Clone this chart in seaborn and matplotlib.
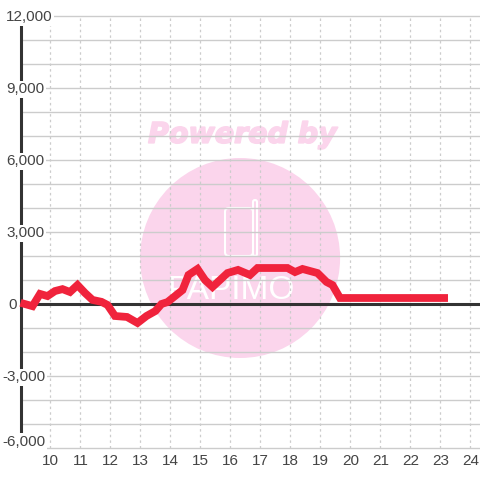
import numpy as np
import pandas as pd
import seaborn as sns
import matplotlib.pyplot as plt
import matplotlib.patheffects as pe
from matplotlib.patches import Ellipse, FancyBboxPatch
from matplotlib.transforms import IdentityTransform

hours = [9.0, 9.4, 9.65, 9.9, 10.15, 10.4, 10.65, 10.9, 11.15, 11.4, 11.7, 11.9,
         12.15, 12.55, 12.9, 13.2, 13.5, 13.7, 13.9, 14.4, 14.6, 14.9, 15.15, 15.4,
         15.9, 16.25, 16.65, 16.9, 17.9, 18.15, 18.4, 18.9, 19.2, 19.4, 19.65, 20.0, 23.25]
values = [50, -90, 420, 330, 540, 620, 500, 790, 460, 170, 90, -40,
          -500, -540, -790, -500, -290, 0, 80, 580, 1210, 1460, 1000, 710,
          1290, 1420, 1210, 1500, 1500, 1330, 1460, 1290, 920, 790, 250, 250, 250]
x_ticks = list(range(10, 25))
y_labels = [12000, 9000, 6000, 3000, 0, -3000, -6000]
y_grid = list(range(-6000, 13000, 1000))

PINK = "#fbd5ec"
DARK = "#333333"
GRID = "#cccccc"
TEXT = "#444444"

sns.set_theme(style="white")
plt.rcParams["font.family"] = ["Liberation Sans", "DejaVu Sans"]

fig = plt.figure(figsize=(4.8, 4.8), dpi=100)
ax = fig.add_axes([20.5 / 480, 32 / 480, 459.5 / 480, 432 / 480])
ax.set_xlim(9, 24.317)
ax.set_ylim(-6000, 12000)
sns.despine(ax=ax, left=True, bottom=True)

# watermark behind the grid
ax.add_patch(Ellipse((16.32, 1917), 200 / 30, 200 / 24 * 1000, color=PINK, lw=0, zorder=0))
ax.text(16.4, 7050, "Powered by", color=PINK, fontsize=20.5, fontweight="bold", fontstyle="italic",
        family="DejaVu Sans", ha="center", va="center", zorder=0.5,
        path_effects=[pe.withStroke(linewidth=1.2, foreground=PINK)])
px = IdentityTransform()
ax.add_patch(FancyBboxPatch((225, 224), 28, 48, boxstyle="round,pad=0,rounding_size=4",
                            transform=px, fc="none", ec="white", lw=1.5, zorder=0.5))
ax.add_patch(FancyBboxPatch((253, 224), 4, 56, boxstyle="round,pad=0,rounding_size=2",
                            transform=px, fc="none", ec="white", lw=1.5, zorder=0.5))
ax.text(16.0, 580, "PAPIMO", color="white", fontsize=24, ha="center", va="center", zorder=0.5)

# grid
for v in y_grid:
    ax.axhline(v, color=GRID, lw=1, zorder=1, clip_on=False)
for h in x_ticks:
    ax.axvline(h, color=GRID, lw=0.9, ls=(0, (2, 2.5)), zorder=1)
ax.axhline(0, color=DARK, lw=2.2, zorder=2)
ax.axvline(9, color=DARK, lw=2.2, zorder=2, clip_on=False)

df = pd.DataFrame({"hour": hours, "value": values})
sns.lineplot(data=df, x="hour", y="value", color="#f0233c", lw=5.6, ax=ax, zorder=3,
             solid_joinstyle="miter", solid_capstyle="butt", clip_on=False)

ax.set_xlabel("")
ax.set_ylabel("")
ax.set_xticks(x_ticks)
ax.set_yticks([])
ax.tick_params(axis="x", length=0, pad=4.5, labelsize=11, labelcolor=TEXT)

# y labels sit over the axis line on a white box, the lowest one is pushed up inside the plot
for v in y_labels:
    x_px = 2 if v < 0 else (8 if v == 0 else 6)
    y = v - 50 if v != -6000 else v + 260
    ax.text((x_px - 20.5) / 459.5, y, f"{v:,}", transform=ax.get_yaxis_transform(), ha="left", va="center",
            fontsize=11, color=TEXT, zorder=4, clip_on=False,
            bbox=dict(fc="white" if v != 0 else "none", ec="none", pad=1))

fig.savefig("out.png", dpi=100)
